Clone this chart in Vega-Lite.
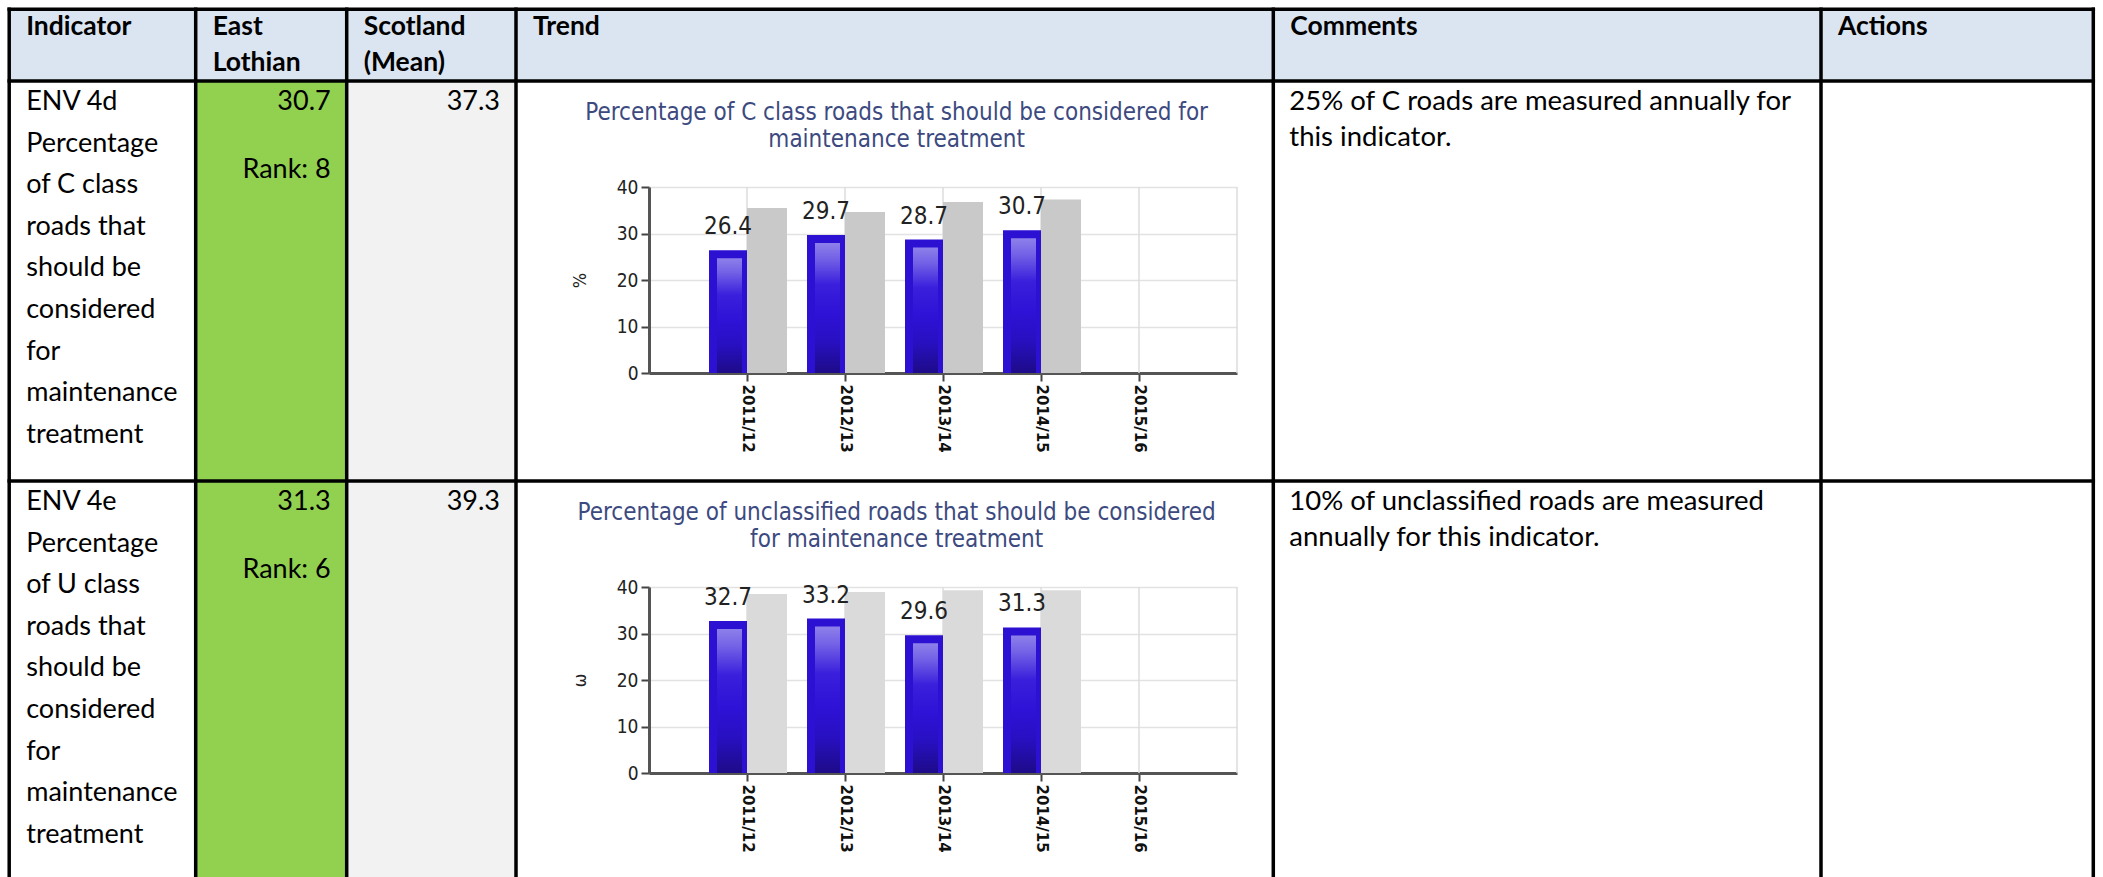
{
  "$schema": "https://vega.github.io/schema/vega-lite/v6.json",
  "width": 2103,
  "height": 877,
  "autosize": "none",
  "padding": 0,
  "background": "#ffffff",
  "config": {"view": {"stroke": null}, "font": "Lato"},
  "datasets": {
    "fills": [
      {"c0": 0, "c1": 6, "r0": 0, "r1": 1, "kind": "header"},
      {"c0": 1, "c1": 2, "r0": 1, "r1": 3, "kind": "local"},
      {"c0": 2, "c1": 3, "r0": 1, "r1": 3, "kind": "mean"}
    ],
    "vlines": [
      {"c": 0, "r0": 0, "r1": 3}, {"c": 1, "r0": 0, "r1": 3}, {"c": 2, "r0": 0, "r1": 3},
      {"c": 3, "r0": 0, "r1": 3}, {"c": 4, "r0": 0, "r1": 3}, {"c": 5, "r0": 0, "r1": 3},
      {"c": 6, "r0": 0, "r1": 3}
    ],
    "hlines": [
      {"r": 0, "c0": 0, "c1": 6}, {"r": 1, "c0": 0, "c1": 6}, {"r": 2, "c0": 0, "c1": 6}
    ],
    "texts": [
      {"role": "head", "c": 0, "r": 0, "t": ["Indicator"]},
      {"role": "head", "c": 1, "r": 0, "t": ["East", "Lothian"]},
      {"role": "head", "c": 2, "r": 0, "t": ["Scotland", "(Mean)"]},
      {"role": "head", "c": 3, "r": 0, "t": ["Trend"]},
      {"role": "head", "c": 4, "r": 0, "t": ["Comments"]},
      {"role": "head", "c": 5, "r": 0, "t": ["Actions"]},
      {"role": "ind", "c": 0, "r": 1, "t": ["ENV 4d", "Percentage", "of C class", "roads that", "should be", "considered", "for", "maintenance", "treatment"]},
      {"role": "ind", "c": 0, "r": 2, "t": ["ENV 4e", "Percentage", "of U class", "roads that", "should be", "considered", "for", "maintenance", "treatment"]},
      {"role": "value", "c": 2, "r": 1, "t": ["30.7"]},
      {"role": "value", "c": 2, "r": 2, "t": ["31.3"]},
      {"role": "rank", "c": 2, "r": 1, "t": ["Rank: 8"]},
      {"role": "rank", "c": 2, "r": 2, "t": ["Rank: 6"]},
      {"role": "value", "c": 3, "r": 1, "t": ["37.3"]},
      {"role": "value", "c": 3, "r": 2, "t": ["39.3"]},
      {"role": "comment", "c": 4, "r": 1, "t": ["25% of C roads are measured annually for", "this indicator."]},
      {"role": "comment", "c": 4, "r": 2, "t": ["10% of unclassified roads are measured", "annually for this indicator."]},
      {"role": "title", "c": 3.5, "r": 1, "t": ["Percentage of C class roads that should be considered for", "maintenance treatment"]},
      {"role": "title", "c": 3.5, "r": 2, "t": ["Percentage of unclassified roads that should be considered", "for maintenance treatment"]}
    ],
    "gridyears": [
      {"year": "2011/12", "lo": 0, "hi": 40}, {"year": "2012/13", "lo": 0, "hi": 40}, {"year": "2013/14", "lo": 0, "hi": 40},
      {"year": "2014/15", "lo": 0, "hi": 40}, {"year": "2015/16", "lo": 0, "hi": 40}, {"year": " ", "lo": 0, "hi": 40}
    ],
    "bars": [
      {"chart": "C", "year": "2011/12", "series": "East Lothian", "value": 26.4},
      {"chart": "C", "year": "2012/13", "series": "East Lothian", "value": 29.7},
      {"chart": "C", "year": "2013/14", "series": "East Lothian", "value": 28.7},
      {"chart": "C", "year": "2014/15", "series": "East Lothian", "value": 30.7},
      {"chart": "C", "year": "2011/12", "series": "Scotland", "value": 35.5},
      {"chart": "C", "year": "2012/13", "series": "Scotland", "value": 34.6},
      {"chart": "C", "year": "2013/14", "series": "Scotland", "value": 36.8},
      {"chart": "C", "year": "2014/15", "series": "Scotland", "value": 37.3},
      {"chart": "U", "year": "2011/12", "series": "East Lothian", "value": 32.7},
      {"chart": "U", "year": "2012/13", "series": "East Lothian", "value": 33.2},
      {"chart": "U", "year": "2013/14", "series": "East Lothian", "value": 29.6},
      {"chart": "U", "year": "2014/15", "series": "East Lothian", "value": 31.3},
      {"chart": "U", "year": "2011/12", "series": "Scotland", "value": 38.5},
      {"chart": "U", "year": "2012/13", "series": "Scotland", "value": 38.9},
      {"chart": "U", "year": "2013/14", "series": "Scotland", "value": 39.3},
      {"chart": "U", "year": "2014/15", "series": "Scotland", "value": 39.3}
    ]
  },
  "layer": [
    {
      "layer": [
        {
          "data": {"name": "fills"},
          "mark": {"type": "rect"},
          "encoding": {
            "x": {"field": "c0", "type": "quantitative", "scale": {"domain": [0, 1, 2, 3, 4, 5, 6], "range": [9.2, 195.7, 346.7, 516, 1273.3, 1821, 2093.3], "zero": false, "nice": false}, "axis": null},
            "x2": {"field": "c1"},
            "y": {"field": "r0", "type": "quantitative", "scale": {"domain": [0, 1, 2, 3], "range": [9.2, 81, 481, 881], "zero": false, "nice": false}, "axis": null},
            "y2": {"field": "r1"},
            "color": {"field": "kind", "type": "nominal", "scale": {"domain": ["header", "local", "mean"], "range": ["#dbe5f1", "#92d050", "#f2f2f2"]}, "legend": null}
          }
        },
        {
          "data": {"name": "texts"},
          "transform": [{"filter": "datum.role === 'head'"}],
          "mark": {"type": "text", "align": "left", "baseline": "alphabetic", "dx": 17, "dy": 26, "font": "Lato", "fontWeight": "bold", "fontSize": 26.5, "lineHeight": 36, "color": "#000000"},
          "encoding": {
            "x": {"field": "c", "type": "quantitative", "scale": {"domain": [0, 1, 2, 3, 4, 5, 6], "range": [9.2, 195.7, 346.7, 516, 1273.3, 1821, 2093.3], "zero": false, "nice": false}, "axis": null},
            "y": {"field": "r", "type": "quantitative", "scale": {"domain": [0, 1, 2, 3], "range": [9.2, 81, 481, 881], "zero": false, "nice": false}, "axis": null},
            "text": {"field": "t", "type": "nominal"}
          }
        },
        {
          "data": {"name": "texts"},
          "transform": [{"filter": "datum.role === 'ind'"}],
          "mark": {"type": "text", "align": "left", "baseline": "alphabetic", "dx": 17, "dy": 29, "font": "Lato", "fontSize": 27, "lineHeight": 41.6, "color": "#000000"},
          "encoding": {
            "x": {"field": "c", "type": "quantitative", "scale": {"domain": [0, 1, 2, 3, 4, 5, 6], "range": [9.2, 195.7, 346.7, 516, 1273.3, 1821, 2093.3], "zero": false, "nice": false}, "axis": null},
            "y": {"field": "r", "type": "quantitative", "scale": {"domain": [0, 1, 2, 3], "range": [9.2, 81, 481, 881], "zero": false, "nice": false}, "axis": null},
            "text": {"field": "t", "type": "nominal"}
          }
        },
        {
          "data": {"name": "texts"},
          "transform": [{"filter": "datum.role === 'value'"}],
          "mark": {"type": "text", "align": "right", "baseline": "alphabetic", "dx": -16, "dy": 29, "font": "Lato", "fontSize": 27, "color": "#000000"},
          "encoding": {
            "x": {"field": "c", "type": "quantitative", "scale": {"domain": [0, 1, 2, 3, 4, 5, 6], "range": [9.2, 195.7, 346.7, 516, 1273.3, 1821, 2093.3], "zero": false, "nice": false}, "axis": null},
            "y": {"field": "r", "type": "quantitative", "scale": {"domain": [0, 1, 2, 3], "range": [9.2, 81, 481, 881], "zero": false, "nice": false}, "axis": null},
            "text": {"field": "t", "type": "nominal"}
          }
        },
        {
          "data": {"name": "texts"},
          "transform": [{"filter": "datum.role === 'rank'"}],
          "mark": {"type": "text", "align": "right", "baseline": "alphabetic", "dx": -16, "dy": 97, "font": "Lato", "fontSize": 27, "color": "#000000"},
          "encoding": {
            "x": {"field": "c", "type": "quantitative", "scale": {"domain": [0, 1, 2, 3, 4, 5, 6], "range": [9.2, 195.7, 346.7, 516, 1273.3, 1821, 2093.3], "zero": false, "nice": false}, "axis": null},
            "y": {"field": "r", "type": "quantitative", "scale": {"domain": [0, 1, 2, 3], "range": [9.2, 81, 481, 881], "zero": false, "nice": false}, "axis": null},
            "text": {"field": "t", "type": "nominal"}
          }
        },
        {
          "data": {"name": "texts"},
          "transform": [{"filter": "datum.role === 'comment'"}],
          "mark": {"type": "text", "align": "left", "baseline": "alphabetic", "dx": 16, "dy": 29, "font": "Lato", "fontSize": 27.5, "lineHeight": 36, "color": "#000000"},
          "encoding": {
            "x": {"field": "c", "type": "quantitative", "scale": {"domain": [0, 1, 2, 3, 4, 5, 6], "range": [9.2, 195.7, 346.7, 516, 1273.3, 1821, 2093.3], "zero": false, "nice": false}, "axis": null},
            "y": {"field": "r", "type": "quantitative", "scale": {"domain": [0, 1, 2, 3], "range": [9.2, 81, 481, 881], "zero": false, "nice": false}, "axis": null},
            "text": {"field": "t", "type": "nominal"}
          }
        },
        {
          "data": {"name": "texts"},
          "transform": [{"filter": "datum.role === 'title'"}],
          "mark": {"type": "text", "align": "center", "baseline": "alphabetic", "dx": 2, "dy": 39, "font": "DejaVu Sans Condensed, Liberation Sans Narrow, DejaVu Sans", "fontSize": 24, "lineHeight": 27, "color": "#3c4a80"},
          "encoding": {
            "x": {"field": "c", "type": "quantitative", "scale": {"domain": [0, 1, 2, 3, 4, 5, 6], "range": [9.2, 195.7, 346.7, 516, 1273.3, 1821, 2093.3], "zero": false, "nice": false}, "axis": null},
            "y": {"field": "r", "type": "quantitative", "scale": {"domain": [0, 1, 2, 3], "range": [9.2, 81, 481, 881], "zero": false, "nice": false}, "axis": null},
            "text": {"field": "t", "type": "nominal"}
          }
        },
        {
          "data": {"name": "vlines"},
          "mark": {"type": "rule", "strokeWidth": 3.5, "color": "#000000", "strokeCap": "square"},
          "encoding": {
            "x": {"field": "c", "type": "quantitative", "scale": {"domain": [0, 1, 2, 3, 4, 5, 6], "range": [9.2, 195.7, 346.7, 516, 1273.3, 1821, 2093.3], "zero": false, "nice": false}, "axis": null},
            "y": {"field": "r0", "type": "quantitative", "scale": {"domain": [0, 1, 2, 3], "range": [9.2, 81, 481, 881], "zero": false, "nice": false}, "axis": null},
            "y2": {"field": "r1"}
          }
        },
        {
          "data": {"name": "hlines"},
          "mark": {"type": "rule", "strokeWidth": 3.5, "color": "#000000", "strokeCap": "square"},
          "encoding": {
            "x": {"field": "c0", "type": "quantitative", "scale": {"domain": [0, 1, 2, 3, 4, 5, 6], "range": [9.2, 195.7, 346.7, 516, 1273.3, 1821, 2093.3], "zero": false, "nice": false}, "axis": null},
            "x2": {"field": "c1"},
            "y": {"field": "r", "type": "quantitative", "scale": {"domain": [0, 1, 2, 3], "range": [9.2, 81, 481, 881], "zero": false, "nice": false}, "axis": null}
          }
        }
      ]
    },
    {
      "encoding": {
        "x": {
          "field": "year", "type": "nominal",
          "scale": {"type": "point", "domain": ["2011/12", "2012/13", "2013/14", "2014/15", "2015/16", " "], "range": [649, 1237], "padding": 0.5, "align": 1},
          "axis": {"orient": "bottom", "offset": -504, "title": null, "labelAngle": 90, "labelAlign": "left", "labelBaseline": "middle", "labelFont": "DejaVu Sans", "labelFontSize": 15, "labelFontWeight": "bold", "labelColor": "#111111", "labelPadding": 3, "tickSize": 8, "tickWidth": 2, "tickColor": "#444444", "tickOpacity": {"condition": {"test": "datum.value === ' '", "value": 0}, "value": 1}, "domainColor": "#555555", "domainWidth": 3, "grid": false, "labelOverlap": false}
        },
        "y": {
          "field": "value", "type": "quantitative", "stack": null,
          "scale": {"domain": [0, 40], "range": [373, 187], "nice": false, "zero": true},
          "axis": {"orient": "left", "offset": -649, "title": "%", "titleFont": "DejaVu Sans Condensed, Liberation Sans Narrow, DejaVu Sans", "titleFontSize": 18, "titleFontWeight": "normal", "titleColor": "#222222", "titlePadding": 27, "values": [0, 10, 20, 30, 40], "labelFont": "DejaVu Sans Condensed, Liberation Sans Narrow, DejaVu Sans", "labelFontSize": 19, "labelColor": "#222222", "labelPadding": 3, "tickSize": 8, "tickWidth": 2, "tickColor": "#444444", "domainColor": "#555555", "domainWidth": 3, "grid": true, "gridColor": "#e2e2e2", "gridWidth": 1.5}
        }
      },
      "layer": [
        {"data": {"name": "gridyears"}, "mark": {"type": "rule", "color": "#dcdcdc", "strokeWidth": 1.5}, "encoding": {"x": {"field": "year", "type": "nominal"}, "y": {"field": "hi", "type": "quantitative"}, "y2": {"field": "lo"}}},
        {"data": {"name": "bars"}, "transform": [{"filter": "datum.chart === 'C' && datum.series === 'Scotland'"}], "mark": {"type": "bar", "width": 40, "xOffset": 20, "color": "#c9c9c9"}},
        {"data": {"name": "bars"}, "transform": [{"filter": "datum.chart === 'C' && datum.series === 'East Lothian'"}], "mark": {"type": "bar", "width": 38, "xOffset": -19, "color": "#2d11d3"}},
        {"data": {"name": "bars"}, "transform": [{"filter": "datum.chart === 'C' && datum.series === 'East Lothian'"}], "mark": {"type": "bar", "width": 25, "xOffset": -17.5, "yOffset": 8, "y2Offset": -7, "color": {"gradient": "linear", "x1": 0, "y1": 0, "x2": 0, "y2": 1, "stops": [{"offset": 0, "color": "#8d80ea"}, {"offset": 0.12, "color": "#7462e6"}, {"offset": 0.32, "color": "#3a1fdc"}, {"offset": 0.55, "color": "#2e12d6"}, {"offset": 0.75, "color": "#2810c2"}, {"offset": 1, "color": "#1d0b88"}]}}},
        {"data": {"name": "bars"}, "transform": [{"filter": "datum.chart === 'C' && datum.series === 'East Lothian'"}], "mark": {"type": "text", "xOffset": -19, "dy": -16, "align": "center", "baseline": "alphabetic", "font": "DejaVu Sans Condensed, Liberation Sans Narrow, DejaVu Sans", "fontSize": 24, "color": "#222222"}, "encoding": {"text": {"field": "value", "type": "quantitative", "format": ".1f"}}}
      ]
    },
    {
      "encoding": {
        "x": {
          "field": "year", "type": "nominal",
          "scale": {"type": "point", "domain": ["2011/12", "2012/13", "2013/14", "2014/15", "2015/16", " "], "range": [649, 1237], "padding": 0.5, "align": 1},
          "axis": {"orient": "bottom", "offset": -104, "title": null, "labelAngle": 90, "labelAlign": "left", "labelBaseline": "middle", "labelFont": "DejaVu Sans", "labelFontSize": 15, "labelFontWeight": "bold", "labelColor": "#111111", "labelPadding": 3, "tickSize": 8, "tickWidth": 2, "tickColor": "#444444", "tickOpacity": {"condition": {"test": "datum.value === ' '", "value": 0}, "value": 1}, "domainColor": "#555555", "domainWidth": 3, "grid": false, "labelOverlap": false}
        },
        "y": {
          "field": "value", "type": "quantitative", "stack": null,
          "scale": {"domain": [0, 40], "range": [773, 587], "nice": false, "zero": true},
          "axis": {"orient": "left", "offset": -649, "title": "ω", "titleFont": "DejaVu Sans Condensed, Liberation Sans Narrow, DejaVu Sans", "titleFontSize": 18, "titleFontWeight": "normal", "titleColor": "#222222", "titlePadding": 27, "values": [0, 10, 20, 30, 40], "labelFont": "DejaVu Sans Condensed, Liberation Sans Narrow, DejaVu Sans", "labelFontSize": 19, "labelColor": "#222222", "labelPadding": 3, "tickSize": 8, "tickWidth": 2, "tickColor": "#444444", "domainColor": "#555555", "domainWidth": 3, "grid": true, "gridColor": "#e2e2e2", "gridWidth": 1.5}
        }
      },
      "layer": [
        {"data": {"name": "gridyears"}, "mark": {"type": "rule", "color": "#dcdcdc", "strokeWidth": 1.5}, "encoding": {"x": {"field": "year", "type": "nominal"}, "y": {"field": "hi", "type": "quantitative"}, "y2": {"field": "lo"}}},
        {"data": {"name": "bars"}, "transform": [{"filter": "datum.chart === 'U' && datum.series === 'Scotland'"}], "mark": {"type": "bar", "width": 40, "xOffset": 20, "color": "#dadada"}},
        {"data": {"name": "bars"}, "transform": [{"filter": "datum.chart === 'U' && datum.series === 'East Lothian'"}], "mark": {"type": "bar", "width": 38, "xOffset": -19, "color": "#2d11d3"}},
        {"data": {"name": "bars"}, "transform": [{"filter": "datum.chart === 'U' && datum.series === 'East Lothian'"}], "mark": {"type": "bar", "width": 25, "xOffset": -17.5, "yOffset": 8, "y2Offset": -7, "color": {"gradient": "linear", "x1": 0, "y1": 0, "x2": 0, "y2": 1, "stops": [{"offset": 0, "color": "#8d80ea"}, {"offset": 0.12, "color": "#7462e6"}, {"offset": 0.32, "color": "#3a1fdc"}, {"offset": 0.55, "color": "#2e12d6"}, {"offset": 0.75, "color": "#2810c2"}, {"offset": 1, "color": "#1d0b88"}]}}},
        {"data": {"name": "bars"}, "transform": [{"filter": "datum.chart === 'U' && datum.series === 'East Lothian'"}], "mark": {"type": "text", "xOffset": -19, "dy": -16, "align": "center", "baseline": "alphabetic", "font": "DejaVu Sans Condensed, Liberation Sans Narrow, DejaVu Sans", "fontSize": 24, "color": "#222222"}, "encoding": {"text": {"field": "value", "type": "quantitative", "format": ".1f"}}}
      ]
    }
  ],
  "resolve": {
    "scale": {"x": "independent", "y": "independent", "color": "independent"},
    "axis": {"x": "independent", "y": "independent"}
  }
}
